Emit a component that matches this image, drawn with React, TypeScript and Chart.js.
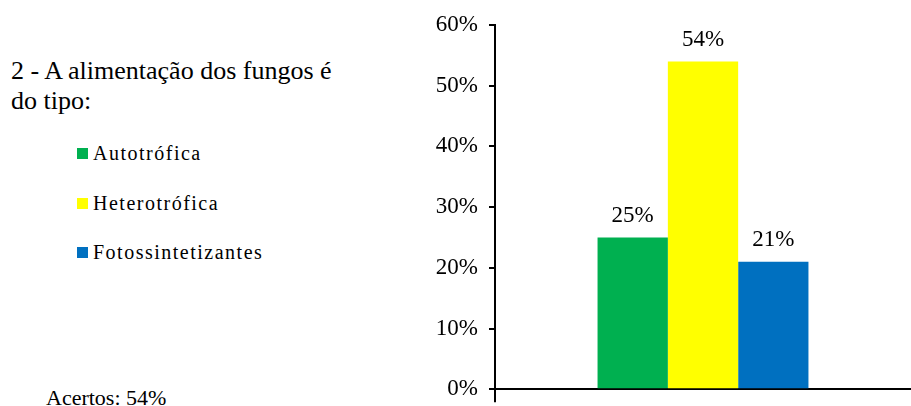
import React, { useEffect, useRef } from "react";
import { Chart, registerables } from "chart.js";

Chart.register(...registerables);

const title = "2 - A alimentação dos fungos é do tipo:";
const seriesNames = ["Autotrófica", "Heterotrófica", "Fotossintetizantes"];
const seriesValues = [25, 54, 21];
const seriesColors = ["#00B050", "#FFFF00", "#0070C0"];
const yTicks = [0, 10, 20, 30, 40, 50, 60];
const footer = "Acertos: 54%";

const FONT = "'Times New Roman', 'Liberation Serif', Tinos, serif";

const valueLabels = {
  id: "valueLabels",
  afterDatasetsDraw(chart: any) {
    const ctx = chart.ctx;
    ctx.save();
    ctx.font = `23px ${FONT}`;
    ctx.fillStyle = "#000";
    ctx.textAlign = "center";
    ctx.textBaseline = "alphabetic";
    chart.data.datasets.forEach((ds: any, i: number) => {
      const meta = chart.getDatasetMeta(i);
      meta.data.forEach((bar: any, j: number) => {
        ctx.fillText(ds.data[j] + "%", bar.x, bar.y - 15.5);
      });
    });
    ctx.restore();
  },
};

export default function App() {
  const ref = useRef<HTMLCanvasElement>(null);
  useEffect(() => {
    if (!ref.current) return;
    const chart = new Chart(ref.current, {
      type: "bar",
      data: {
        labels: [""],
        datasets: seriesNames.map((n, i) => ({
          label: n,
          data: [seriesValues[i]],
          backgroundColor: seriesColors[i],
          borderWidth: 0,
          barPercentage: 1,
          categoryPercentage: 0.507,
        })),
      },
      options: {
        animation: false,
        responsive: false,
        maintainAspectRatio: false,
        font: { family: FONT },
        layout: { padding: { top: 25, right: 0, left: 0, bottom: 0 } },
        plugins: { legend: { display: false }, tooltip: { enabled: false } },
        scales: {
          x: {
            ticks: { display: false },
            grid: {
              offset: true,
              drawOnChartArea: false,
              drawTicks: true,
              tickLength: 13,
              color: (c: any) => (c.index === 0 ? "#000" : "rgba(0,0,0,0)"),
              lineWidth: 2,
            },
            border: { display: true, color: "#000", width: 2 },
            afterFit: (s: any) => {
              s.height = 8;
            },
          },
          y: {
            min: yTicks[0],
            max: yTicks[yTicks.length - 1],
            afterBuildTicks: (s: any) => {
              s.ticks = yTicks.map((v) => ({ value: v }));
            },
            ticks: {
              stepSize: 10,
              padding: 11,
              color: "#000",
              font: { family: FONT, size: 23 },
              callback: (v: any) => v + "%",
            },
            grid: {
              drawOnChartArea: false,
              drawTicks: true,
              tickLength: 6,
              color: "#000",
              lineWidth: 2,
            },
            border: { display: true, color: "#000", width: 2 },
            afterFit: (s: any) => {
              s.width = 95;
            },
          },
        },
      },
      plugins: [valueLabels],
    });
    return () => chart.destroy();
  }, []);

  const rowTops = [141, 191, 240];

  return (
    <div
      style={{
        position: "fixed",
        left: 0,
        top: 0,
        width: 911,
        height: 406,
        overflow: "hidden",
        background: "#fff",
        color: "#000",
      }}
    >
      <div
        style={{
          position: "absolute",
          left: 11,
          top: 56,
          width: 350,
          fontFamily: FONT,
          fontSize: 26,
          lineHeight: "30px",
        }}
      >
        {title}
      </div>
      {seriesNames.map((n, i) => (
        <div
          key={n}
          style={{
            position: "absolute",
            left: 77,
            top: rowTops[i],
            height: 24,
            lineHeight: "24px",
            fontFamily: FONT,
            fontSize: 20,
            letterSpacing: 1.5,
            whiteSpace: "nowrap",
            display: "flex",
            alignItems: "center",
          }}
        >
          <span
            style={{
              display: "inline-block",
              width: 11,
              height: 11,
              background: seriesColors[i],
              marginRight: 5,
            }}
          />
          <span style={{ fontFamily: FONT }}>{n}</span>
        </div>
      ))}
      <div
        style={{
          position: "absolute",
          left: 46,
          top: 385,
          fontFamily: FONT,
          fontSize: 22,
          lineHeight: "26px",
          whiteSpace: "nowrap",
        }}
      >
        {footer}
      </div>
      <canvas
        ref={ref}
        width={511}
        height={414}
        style={{ position: "absolute", left: 400, top: 0, width: 511, height: 414 }}
      />
    </div>
  );
}
